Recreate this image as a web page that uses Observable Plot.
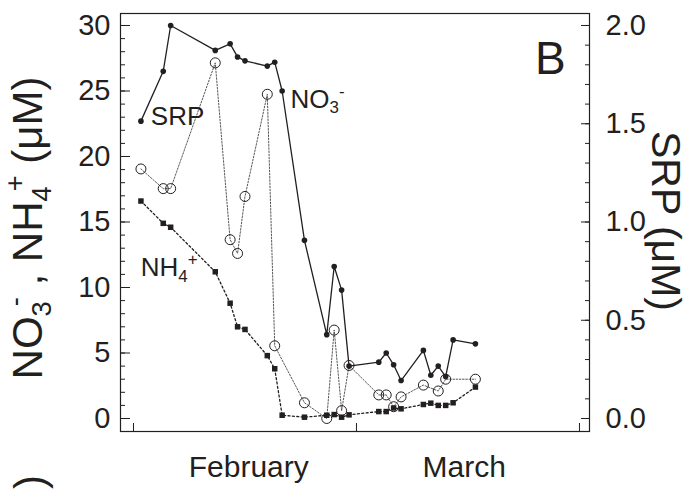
<!DOCTYPE html>
<html><head><meta charset="utf-8">
<script src="https://cdn.jsdelivr.net/npm/d3@7"></script>
<script src="https://cdn.jsdelivr.net/npm/@observablehq/plot@0.6"></script>
<style>
body{margin:0;background:#fff;}
svg{display:block;}
</style></head><body><div id="chart"></div>
<script>
// sampling day (days since 1 February)
const days = [1,4,5,11,13,14,15,18,19,20,23,26,27,28,29,33,34,35,36,39,40,41,42,43,46];
// NO3- (µM), left axis
const no3 = [22.7,26.5,30.0,28.1,28.6,27.6,27.3,26.9,27.2,25.0,13.6,6.4,11.6,9.8,4.0,4.3,5.0,4.1,2.9,5.2,3.3,4.0,3.2,6.0,5.7];
// NH4+ (µM), left axis
const nh4 = [16.6,14.9,14.6,11.2,8.8,7.0,6.8,4.8,3.8,0.25,0.1,0.25,0.3,0.1,0.28,0.53,0.53,0.8,0.74,1.07,1.17,1.0,1.0,1.2,2.4];
// SRP (µM), right axis
const srpDays = [1,4,5,11,13,14,15,18,19,23,26,27,28,29,33,34,35,36,39,41,42,46];
const srp = [1.27,1.17,1.17,1.81,0.91,0.84,1.13,1.65,0.37,0.08,0.0,0.45,0.04,0.27,0.12,0.12,0.06,0.11,0.17,0.14,0.20,0.20];

const leftTicks = [0,5,10,15,20,25,30];
const leftMinor = d3.range(0,31);
const rightTicks = [0,0.5,1.0,1.5,2.0];
const rightMinor = d3.range(0,21).map(i => i/10);
const monthTicks = [0,30,60];
const months = ["February","March"];
const monthPos = [15.5,44.5];
const SRP_K = 15; // 2.0 µM SRP on the right axis = 30 µM on the left axis

const ink = "#231f20";
const no3Data = days.map((d,i) => ({day:d, v:no3[i]}));
const nh4Data = days.map((d,i) => ({day:d, v:nh4[i]}));
const srpData = srpDays.map((d,i) => ({day:d, v:srp[i]}));

const chart = Plot.plot({
  width:693, height:491,
  marginLeft:120, marginRight:104, marginTop:13, marginBottom:60,
  style:{fontFamily:"'Liberation Sans', Arial, sans-serif", color:ink, background:"white", overflow:"visible"},
  x:{domain:[-1.749,61.35]},
  y:{domain:[-0.992,30.916]},
  marks:[
    Plot.axisY(leftMinor, {anchor:"left", tickSize:-5, fill:"none", stroke:ink, label:null}),
    Plot.axisY(leftTicks, {anchor:"left", tickSize:-10, tickPadding:20, fontSize:29, fill:ink, stroke:ink, label:null}),
    Plot.axisY(rightMinor.map(v => v*SRP_K), {anchor:"right", tickSize:-5, fill:"none", stroke:ink, label:null}),
    Plot.axisY(rightTicks.map(v => v*SRP_K), {anchor:"right", tickSize:-9, tickPadding:25, fontSize:29, fill:ink, stroke:ink, label:null,
      tickFormat: v => (v/SRP_K).toFixed(1)}),
    Plot.axisX(monthTicks, {anchor:"bottom", tickSize:-8, fill:"none", stroke:ink, label:null}),
    Plot.axisX(monthPos, {anchor:"bottom", tickSize:0, tickPadding:24, fontSize:30, fill:ink, label:null,
      tickFormat: d => months[monthPos.indexOf(d)]}),
    Plot.line(srpData, {x:"day", y:d => d.v*SRP_K, stroke:"#444", strokeWidth:0.9, strokeDasharray:"1.6,1.6"}),
    Plot.line(nh4Data, {x:"day", y:"v", stroke:ink, strokeWidth:1.3, strokeDasharray:"2,2.4"}),
    Plot.line(no3Data, {x:"day", y:"v", stroke:ink, strokeWidth:1.3}),
    Plot.dot(srpData, {x:"day", y:d => d.v*SRP_K, r:5, stroke:ink, strokeWidth:1, fill:"none"}),
    Plot.dot(nh4Data, {x:"day", y:"v", symbol:"square", r:3.1, fill:ink, stroke:"none"}),
    Plot.dot(no3Data, {x:"day", y:"v", r:2.8, fill:ink, stroke:"none"}),
    Plot.frame({stroke:ink, strokeWidth:1.2})
  ]
});
document.getElementById("chart").appendChild(chart);

const sx = chart.scale("x"), sy = chart.scale("y");
const svg = d3.select(chart);
const FONT = "'Liberation Sans', Arial, sans-serif";

// parts: [text, kind] with kind "", "sub", "sup"
function chem(x, y, parts, size, {anchor="start", rotate=0, subK=0.65, subDy=0.22, supDy=0.42, supDx=0} = {}) {
  const t = svg.append("text")
    .attr("transform", `translate(${x},${y}) rotate(${rotate})`)
    .attr("text-anchor", anchor)
    .attr("font-family", FONT)
    .attr("font-size", size)
    .attr("fill", ink);
  let shift = 0;
  for (const [s, kind] of parts) {
    let target = 0, fs = size, dx = 0;
    if (kind === "sub") { target = subDy*size; fs = size*subK; }
    if (kind === "sup") { target = -supDy*size; fs = size*subK; dx = supDx*size; }
    t.append("tspan").attr("dy", target - shift).attr("dx", dx).attr("font-size", fs).text(s);
    shift = target;
  }
  return t;
}

// in-plot labels
chem(sx.apply(2.4), sy.apply(22.4), [["SRP",""]], 26);
chem(sx.apply(21.2), sy.apply(23.7), [["NO",""],["3","sub"],["-","sup"]], 26);
chem(sx.apply(1.04), sy.apply(10.84), [["NH",""],["4","sub"],["+","sup"]], 26);
chem(sx.apply(54.1), sy.apply(26.26), [["B",""]], 46);

// axis titles
chem(42, 228, [["NO",""],["3","sub"],["-","sup"],[" , ",""],["NH",""],["4","sub"],["+","sup"],[" (μM)",""]], 42,
  {anchor:"middle", rotate:-90, supDx:-0.12});
chem(652, 221, [["SRP (μM)",""]], 41, {anchor:"middle", rotate:90});
// cut-off parenthesis from the panel below
chem(44, 489, [[")",""]], 42, {rotate:-90});
</script></body></html>
